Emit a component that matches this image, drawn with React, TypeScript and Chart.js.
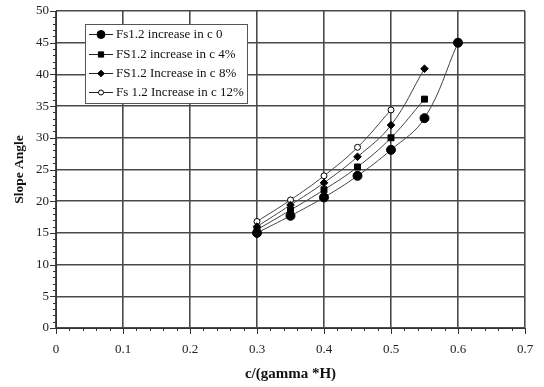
import React, { useEffect, useRef } from "react";
import { Chart, registerables } from "chart.js";

Chart.register(...registerables);

const xValues = [0.3, 0.35, 0.4, 0.45, 0.5, 0.55, 0.6];
const seriesLabels = [
  "Fs1.2 increase in c 0",
  "FS1.2 increase in c 4%",
  "FS1.2 Increase in c 8%",
  "Fs 1.2 Increase in c 12%",
];
const inc0 = [15.0, 17.7, 20.6, 24.0, 28.1, 33.1, 45.0];
const inc4 = [15.5, 18.6, 21.8, 25.4, 30.0, 36.1];
const inc8 = [16.0, 19.4, 22.9, 27.0, 32.0, 40.9];
const inc12 = [16.8, 20.2, 24.0, 28.5, 34.4];
const xTitle = "c/(gamma *H)";
const yTitle = "Slope Angle";

const FONT = "'Liberation Serif', 'Times New Roman', serif";

const markers = [
  { style: "circle", radius: 4.5, fill: "#000" },
  { style: "rect", radius: 4.2, fill: "#000" },
  { style: "rectRot", radius: 3.8, fill: "#000" },
  { style: "circle", radius: 3, fill: "#fff" },
];

function drawMarker(ctx: CanvasRenderingContext2D, style: string, r: number, fill: string, x: number, y: number) {
  ctx.save();
  ctx.fillStyle = fill;
  ctx.strokeStyle = "#000";
  ctx.lineWidth = 1;
  ctx.beginPath();
  if (style === "circle") {
    ctx.arc(x, y, r, 0, Math.PI * 2);
  } else if (style === "rect") {
    const s = r * Math.SQRT1_2;
    ctx.rect(x - s, y - s, 2 * s, 2 * s);
  } else {
    ctx.moveTo(x, y - r);
    ctx.lineTo(x + r, y);
    ctx.lineTo(x, y + r);
    ctx.lineTo(x - r, y);
    ctx.closePath();
  }
  ctx.fill();
  ctx.stroke();
  ctx.restore();
}

const minorTicks = {
  id: "minorTicks",
  afterDraw(chart: any) {
    const { ctx, scales } = chart;
    const xs = scales.x;
    const ys = scales.y;
    ctx.save();
    ctx.strokeStyle = "#333";
    ctx.lineWidth = 1;
    ctx.beginPath();
    for (let v = 0; v <= 50.0001; v += 1) {
      const y = Math.round(ys.getPixelForValue(v)) + 0.5;
      const major = Math.abs(v % 5) < 1e-6;
      ctx.moveTo(xs.left - (major ? 6 : 3), y);
      ctx.lineTo(xs.left, y);
    }
    for (let i = 0; i <= 35; i++) {
      const v = i * 0.02;
      const x = Math.round(xs.getPixelForValue(v)) + 0.5;
      const major = i % 5 === 0;
      ctx.moveTo(x, ys.bottom);
      ctx.lineTo(x, ys.bottom + (major ? 6 : 3));
    }
    ctx.moveTo(xs.left + 0.5, ys.top);
    ctx.lineTo(xs.left + 0.5, ys.bottom);
    ctx.moveTo(xs.left, ys.bottom + 0.5);
    ctx.lineTo(xs.right, ys.bottom + 0.5);
    ctx.stroke();
    ctx.restore();
  },
};

const boxLegend = {
  id: "boxLegend",
  afterDraw(chart: any) {
    const { ctx } = chart;
    const bx = 85, by = 24, bw = 162, bh = 79;
    ctx.save();
    ctx.fillStyle = "#fff";
    ctx.fillRect(bx, by, bw, bh);
    ctx.strokeStyle = "#555";
    ctx.lineWidth = 1;
    ctx.strokeRect(bx + 0.5, by + 0.5, bw, bh);
    const rows = [34, 54, 73, 92];
    ctx.font = `13px ${FONT}`;
    ctx.textBaseline = "middle";
    chart.data.datasets.forEach((ds: any, i: number) => {
      const y = rows[i];
      ctx.strokeStyle = "#222";
      ctx.lineWidth = 1;
      ctx.beginPath();
      ctx.moveTo(89, y + 0.5);
      ctx.lineTo(113, y + 0.5);
      ctx.stroke();
      const m = markers[i];
      drawMarker(ctx, m.style, m.radius - 0.5, m.fill, 101, y + 0.5);
      ctx.fillStyle = "#111";
      ctx.fillText(ds.label, 116, y + 1);
    });
    ctx.restore();
  },
};

export default function App() {
  const ref = useRef<HTMLCanvasElement>(null);
  useEffect(() => {
    document.body.style.margin = "0";
    const all = [inc0, inc4, inc8, inc12];
    const chart = new Chart(ref.current!, {
      type: "line",
      data: {
        datasets: all.map((arr, i) => ({
          label: seriesLabels[i],
          data: arr.map((y, j) => ({ x: xValues[j], y })),
          borderColor: "#444",
          borderWidth: 1,
          tension: 0.4,
          pointStyle: markers[i].style as any,
          pointRadius: markers[i].radius,
          pointBackgroundColor: markers[i].fill,
          pointBorderColor: "#000",
          pointBorderWidth: 1,
        })),
      },
      options: {
        animation: false,
        responsive: false,
        layout: { padding: { top: 11, right: 19, left: 0, bottom: 0 } },
        plugins: { legend: { display: false }, tooltip: { enabled: false } },
        scales: {
          x: {
            type: "linear",
            min: 0,
            max: 0.7,
            ticks: {
              stepSize: 0.1,
              color: "#222",
              font: { family: FONT, size: 13 },
              padding: 14,
              callback: (v: any) => (Math.round(Number(v) * 10) / 10).toString(),
            },
            grid: { color: "#4a4a4a", lineWidth: 1.6, drawTicks: false },
            border: { display: false },
            title: {
              display: true,
              text: xTitle,
              color: "#111",
              font: { family: FONT, size: 15, weight: "bold" },
              padding: { top: 4 },
            },
            afterFit: (s: any) => {
              s.height = 59;
              s.paddingLeft = 0;
              s.paddingRight = 0;
            },
          },
          y: {
            min: 0,
            max: 50,
            ticks: {
              stepSize: 5,
              color: "#222",
              font: { family: FONT, size: 13 },
              padding: 7,
            },
            grid: { color: "#4a4a4a", lineWidth: 1.6, drawTicks: false },
            border: { display: false },
            title: {
              display: true,
              text: yTitle,
              color: "#111",
              font: { family: FONT, size: 13.5, weight: "bold" },
              padding: { top: 11, bottom: 0 },
            },
            afterFit: (s: any) => {
              s.width = 56;
              s.paddingTop = 0;
              s.paddingBottom = 0;
            },
          },
        },
      },
      plugins: [minorTicks, boxLegend],
    } as any);
    return () => chart.destroy();
  }, []);
  return <canvas ref={ref} width={544} height={387} style={{ display: "block" }} />;
}
